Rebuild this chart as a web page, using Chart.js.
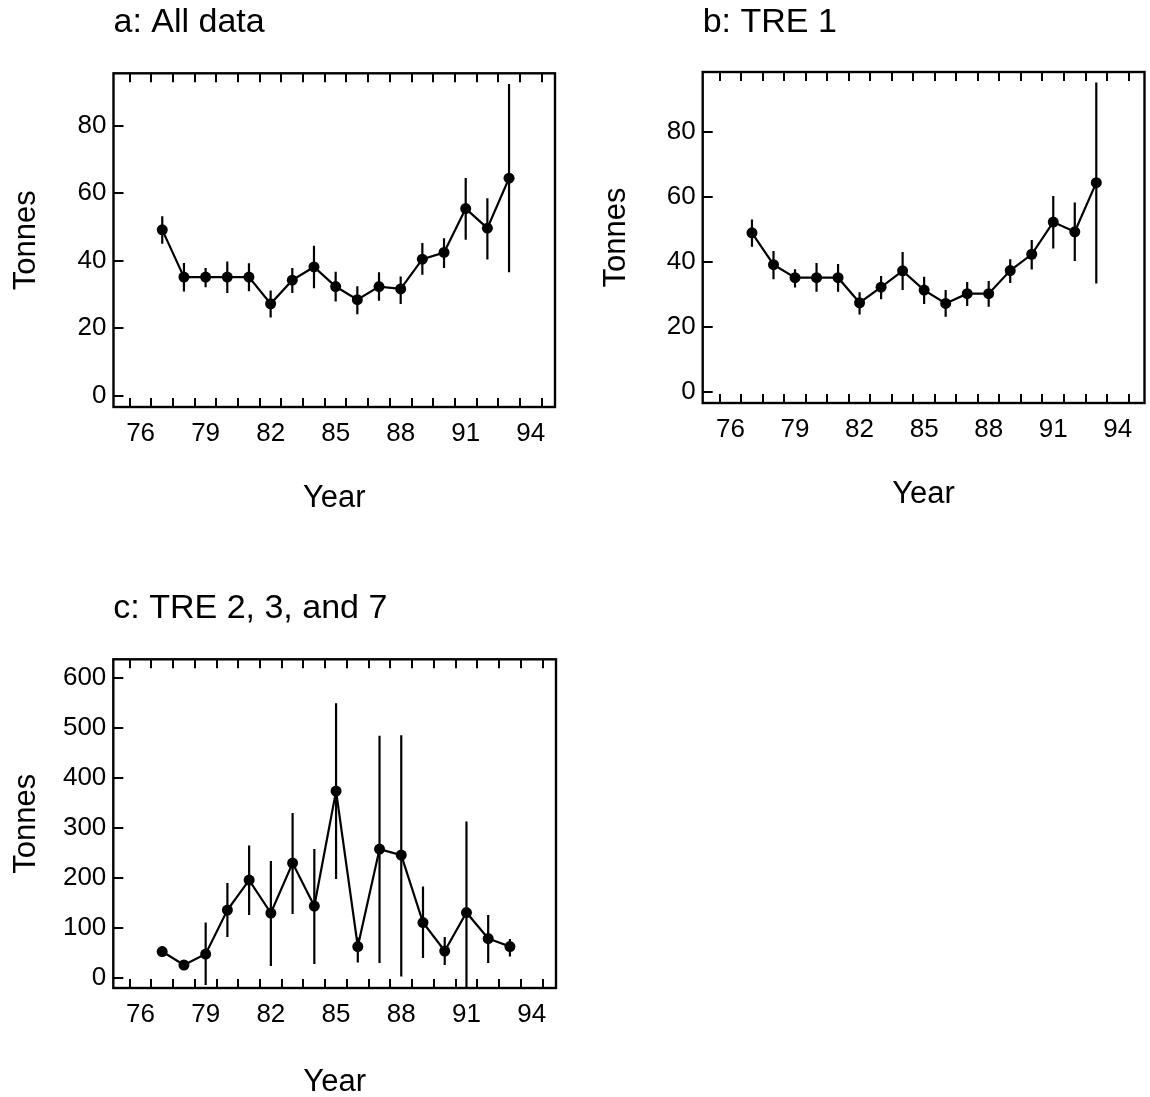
<!DOCTYPE html>
<html>
<head>
<meta charset="utf-8">
<script src="https://cdn.jsdelivr.net/npm/chart.js@4.4.0/dist/chart.umd.min.js"></script>
<style>
  body { margin: 0; background: #fff; width: 1150px; height: 1097px; position: relative; overflow: hidden; }
  canvas { position: absolute; }
</style>
</head>
<body>
<canvas id="chartA" width="575" height="517" style="left:0;top:0"></canvas>
<canvas id="chartB" width="560" height="513" style="left:590px;top:0"></canvas>
<canvas id="chartC" width="575" height="515" style="left:0;top:586px"></canvas>
<script>
// years on the x axis
const years = [77, 78, 79, 80, 81, 82, 83, 84, 85, 86, 87, 88, 89, 90, 91, 92, 93];

// a: All data
const allMean = [49.1, 35.1, 35.1, 35.1, 35.1, 27.2, 34.2, 38.1, 32.3, 28.4, 32.3, 31.6, 40.4, 42.4, 55.4, 49.6, 64.4];
const allLow  = [45.0, 30.8, 32.1, 30.4, 30.9, 23.1, 30.4, 31.8, 27.9, 24.1, 28.1, 27.1, 35.8, 37.8, 46.2, 40.3, 36.5];
const allHigh = [53.1, 39.3, 37.8, 39.7, 39.2, 31.1, 37.8, 44.4, 36.7, 32.4, 36.5, 35.3, 45.2, 46.6, 64.5, 58.5, 92.3];

// b: TRE 1
const tre1Mean = [48.9, 39.1, 35.1, 35.1, 35.1, 27.4, 32.2, 37.2, 31.3, 27.2, 30.2, 30.2, 37.3, 42.3, 52.2, 49.2, 64.3];
const tre1Low  = [44.6, 34.6, 32.1, 30.8, 30.8, 23.8, 28.5, 31.3, 27.0, 23.1, 26.4, 26.2, 33.5, 37.6, 44.1, 40.2, 33.3];
const tre1High = [53.0, 43.3, 37.7, 39.6, 39.3, 30.6, 35.6, 43.0, 35.4, 31.3, 33.8, 34.1, 40.8, 46.7, 60.2, 58.2, 95.1];

// c: TRE 2, 3, and 7
const tre237Mean = [52, 25, 47, 135, 195, 129, 229, 143, 373, 62, 257, 245, 110, 53, 130, 78, 62];
const tre237Low  = [42, 22, -15, 81, 125, 23, 127, 27, 197, 30, 29, 2, 39, 25, -21, 29, 42];
const tre237High = [62, 28, 110, 189, 264, 233, 329, 257, 549, 80, 484, 485, 182, 81, 312, 125, 77];

// tick labels
const xTickLabels = [76, 79, 82, 85, 88, 91, 94];
const yTicksSmall = [0, 20, 40, 60, 80];
const yTicksLarge = [0, 100, 200, 300, 400, 500, 600];

const FONT = "'Liberation Sans', Arial, Helvetica, sans-serif";
Chart.defaults.color = '#000';
Chart.defaults.font.family = FONT;

// vertical error bars, drawn through the chart's scales
const errorBars = {
  id: 'errorBars',
  beforeDatasetsDraw(chart, args, opts) {
    const { ctx, scales: { x, y } } = chart;
    ctx.save();
    ctx.strokeStyle = '#000';
    ctx.lineWidth = 2.2;
    ctx.beginPath();
    opts.low.forEach((lo, i) => {
      const px = x.getPixelForValue(years[i]);
      ctx.moveTo(px, y.getPixelForValue(lo));
      ctx.lineTo(px, y.getPixelForValue(opts.high[i]));
    });
    ctx.stroke();
    ctx.restore();
  }
};

// box frame with inward ticks
const frame = {
  id: 'frame',
  afterDraw(chart) {
    const { ctx, chartArea: a, scales: { x, y } } = chart;
    ctx.save();
    ctx.strokeStyle = '#000';
    ctx.lineWidth = 2.4;
    ctx.strokeRect(a.left, a.top, a.width, a.height);
    ctx.lineWidth = 2;
    ctx.beginPath();
    for (let yr = Math.ceil(x.min - 0.5) + 0.5; yr < x.max; yr++) {
      const px = Math.round(x.getPixelForValue(yr));
      ctx.moveTo(px, a.top); ctx.lineTo(px, a.top + 9);
      ctx.moveTo(px, a.bottom); ctx.lineTo(px, a.bottom - 9);
    }
    y.ticks.forEach(t => {
      const py = Math.round(y.getPixelForValue(t.value));
      ctx.moveTo(a.left, py); ctx.lineTo(a.left + 10, py);
    });
    ctx.stroke();
    ctx.restore();
  }
};

function makePanel(id, cfg) {
  const pts = years.map((yr, i) => ({ x: yr, y: cfg.mean[i] }));
  new Chart(document.getElementById(id), {
    type: 'line',
    data: {
      datasets: [{
        data: pts,
        borderColor: '#000',
        borderWidth: 2.2,
        backgroundColor: '#000',
        pointRadius: 5.5,
        pointBorderWidth: 0,
        tension: 0
      }]
    },
    options: {
      responsive: false,
      animation: false,
      events: [],
      layout: { padding: { right: cfg.padRight, bottom: 0 } },
      plugins: {
        legend: { display: false },
        tooltip: { enabled: false },
        title: {
          display: true,
          text: cfg.title,
          align: 'start',
          fullSize: false,
          font: { size: 34, weight: 'normal', family: FONT },
          padding: { top: 2, bottom: cfg.titleGap }
        },
        errorBars: { low: cfg.low, high: cfg.high }
      },
      scales: {
        x: {
          type: 'linear',
          min: cfg.xMin,
          max: cfg.xMax,
          grid: { display: false, drawTicks: false },
          border: { display: false },
          afterBuildTicks: s => { s.ticks = xTickLabels.map(v => ({ value: v })); },
          afterFit: s => { s.height = cfg.axisHeight; },
          ticks: { padding: 11, font: { size: 26 }, maxRotation: 0 },
          title: { display: true, text: 'Year', font: { size: 31 }, padding: { top: 0, bottom: 0 } }
        },
        y: {
          min: cfg.yMin,
          max: cfg.yMax,
          grid: { display: false, drawTicks: false },
          border: { display: false },
          afterBuildTicks: s => { s.ticks = cfg.yTicks.map(v => ({ value: v })); },
          afterFit: s => { s.width = cfg.axisWidth; },
          ticks: { padding: 7, font: { size: 26 } },
          title: { display: true, text: 'Tonnes', font: { size: 31 }, padding: { top: 8, bottom: 0 } }
        }
      }
    },
    plugins: [errorBars, frame]
  });
}

makePanel('chartA', {
  title: 'a: All data', mean: allMean, low: allLow, high: allHigh,
  xMin: 74.75, xMax: 95.12, yMin: -3.4, yMax: 95.5, yTicks: yTicksSmall,
  axisWidth: 113.5, axisHeight: 110, padRight: 20, titleGap: 30.5
});
makePanel('chartB', {
  title: 'b: TRE 1', mean: tre1Mean, low: tre1Low, high: tre1High,
  xMin: 74.71, xMax: 95.24, yMin: -3.4, yMax: 98.3, yTicks: yTicksSmall,
  axisWidth: 112.7, axisHeight: 110, padRight: 2.3, titleGap: 29.2
});
makePanel('chartC', {
  title: 'c: TRE 2, 3, and 7', mean: tre237Mean, low: tre237Low, high: tre237High,
  xMin: 74.75, xMax: 95.12, yMin: -21, yMax: 636.8, yTicks: yTicksLarge,
  axisWidth: 113.3, axisHeight: 113, padRight: 19, titleGap: 30.5
});
</script>
</body>
</html>
